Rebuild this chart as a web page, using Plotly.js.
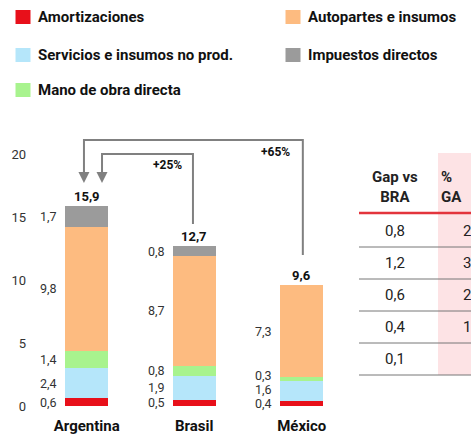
<!DOCTYPE html>
<html><head><meta charset="utf-8">
<script src="https://cdn.plot.ly/plotly-3.0.1.min.js"></script>
<style>html,body{margin:0;padding:0;background:#fff}#chart{width:471px;height:439px}</style>
</head><body><div id="chart"></div>
<script>
// ---- data ----
const countries = ['Argentina', 'Brasil', 'México'];
const seriesNames = ['Amortizaciones', 'Servicios e insumos no prod.', 'Mano de obra directa', 'Autopartes e insumos', 'Impuestos directos'];
const amortizaciones = [0.6, 0.5, 0.4];
const servicios = [2.4, 1.9, 1.6];
const manoDeObra = [1.4, 0.8, 0.3];
const autopartes = [9.8, 8.7, 7.3];
const impuestos = [1.7, 0.8, 0];
const totals = [15.9, 12.7, 9.6];
const comparisons = ['+25%', '+65%'];
const yTicks = [0, 5, 10, 15, 20];
const gapHeader = 'Gap vs<br>BRA';
const pctHeader = '%<br>GA';
const gapVsBra = [0.8, 1.2, 0.6, 0.4, 0.1];
const pctGapVisible = ['2', '3', '2', '1', ''];

// ---- styles ----
const colors = ['#e8101a', '#b5e6fa', '#a8f38e', '#fdbb80', '#9b9b9b'];
const FONT = 'Roboto, "Open Sans", sans-serif';
const series = [amortizaciones, servicios, manoDeObra, autopartes, impuestos];
const xIdx = countries.map((c, i) => i);
const fmt = v => v.toFixed(1).replace('.', ',');

// plot area geometry (pixels)
const L = 33, W = 438, B = 406, H = 406;
const pxX = p => (p - L) / W;
const pxY = p => (B - p) / H;
const unit = 12.6; // px per y unit
const dY = p => (B - p) / unit;

const traces = series.map((vals, s) => ({
  type: 'bar', x: xIdx, y: vals, name: seriesNames[s],
  marker: { color: colors[s], line: { width: 0 } },
  width: 0.4, hoverinfo: 'skip', showlegend: false
}));

const annotations = [];
const shapes = [];

// segment labels (centred on segment, nudged apart when segments are thin)
xIdx.forEach(i => {
  let cum = 0, prevPx = null;
  series.forEach(vals => {
    const v = vals[i];
    if (v > 0) {
      let p = B - (cum + v / 2) * unit;
      if (prevPx !== null) p = Math.min(p, prevPx - 14);
      prevPx = p;
      annotations.push({
        x: i - 0.2, y: dY(p), xref: 'x', yref: 'y', text: fmt(v), showarrow: false,
        xanchor: 'right', yanchor: 'middle', xshift: -6,
        font: { family: FONT, size: 12.5, color: '#333' }
      });
    }
    cum += v;
  });
  annotations.push({
    x: i, y: totals[i], xref: 'x', yref: 'y', text: fmt(totals[i]), showarrow: false,
    xanchor: 'center', yanchor: 'bottom', yshift: 0,
    font: { family: FONT, size: 13, color: '#111', weight: 'bold' }
  });
});

// comparison arrows
const arrowColor = '#808080';
shapes.push({ type: 'path', xref: 'x', yref: 'y', path: `M 2.01,${dY(255)} L 2.01,${dY(140)} L -0.026,${dY(140)} L -0.026,${dY(172)}`, line: { color: arrowColor, width: 2 } });
shapes.push({ type: 'path', xref: 'x', yref: 'y', path: `M 0.988,${dY(224)} L 0.988,${dY(154)} L 0.142,${dY(154)} L 0.142,${dY(172)}`, line: { color: arrowColor, width: 2 } });
[-0.026, 0.142].forEach(x => annotations.push({
  x: x, y: dY(183), xref: 'x', yref: 'y', text: '', showarrow: true, ax: 0, ay: -14,
  arrowhead: 2, arrowsize: 1.1, arrowwidth: 2, arrowcolor: arrowColor
}));
annotations.push({ x: 0.747, y: dY(165), xref: 'x', yref: 'y', text: comparisons[0], showarrow: false,
  font: { family: FONT, size: 12, color: '#111', weight: 'bold' } });
annotations.push({ x: 1.76, y: dY(152), xref: 'x', yref: 'y', text: comparisons[1], showarrow: false,
  font: { family: FONT, size: 12, color: '#111', weight: 'bold' } });

// legend (manual, two columns)
const legendSlots = [[0, 23, 17], [3, 293, 17], [1, 23, 55], [4, 293, 55], [2, 23, 90]];
legendSlots.forEach(([s, cx, cy]) => {
  shapes.push({ type: 'rect', xref: 'paper', yref: 'paper', x0: pxX(cx - 7.5), x1: pxX(cx + 7.5), y0: pxY(cy + 7), y1: pxY(cy - 7),
    fillcolor: colors[s], line: { width: 0 } });
  annotations.push({ x: pxX(cx + 13), y: pxY(cy), xref: 'paper', yref: 'paper', text: seriesNames[s], showarrow: false,
    xanchor: 'left', yanchor: 'middle', font: { family: FONT, size: 15, color: '#111', weight: 'bold' } });
});

// table
shapes.push({ type: 'rect', xref: 'paper', yref: 'paper', x0: pxX(438), x1: pxX(475), y0: pxY(375), y1: pxY(153),
  fillcolor: '#fde3e5', line: { width: 0 }, layer: 'below' });
shapes.push({ type: 'line', xref: 'paper', yref: 'paper', x0: pxX(359), x1: pxX(475), y0: pxY(213), y1: pxY(213),
  line: { color: '#e3343c', width: 2.5 } });
gapVsBra.forEach((v, k) => {
  const yl = 247 + 32 * k;
  shapes.push({ type: 'line', xref: 'paper', yref: 'paper', x0: pxX(359), x1: pxX(475), y0: pxY(yl), y1: pxY(yl),
    line: { color: '#777', width: 1 } });
  annotations.push({ x: pxX(395), y: pxY(yl - 16), xref: 'paper', yref: 'paper', text: fmt(v), showarrow: false,
    xanchor: 'center', yanchor: 'middle', font: { family: FONT, size: 15, color: '#222' } });
  if (pctGapVisible[k]) annotations.push({ x: pxX(461), y: pxY(yl - 16), xref: 'paper', yref: 'paper', text: pctGapVisible[k], showarrow: false,
    xanchor: 'left', yanchor: 'middle', font: { family: FONT, size: 15, color: '#222' } });
});
annotations.push({ x: pxX(395), y: pxY(187), xref: 'paper', yref: 'paper', text: gapHeader, showarrow: false,
  xanchor: 'center', yanchor: 'middle', font: { family: FONT, size: 15, color: '#222', weight: 'bold' } });
annotations.push({ x: pxX(439), y: pxY(187), xref: 'paper', yref: 'paper', text: pctHeader, showarrow: false, align: 'left',
  xanchor: 'left', yanchor: 'middle', font: { family: FONT, size: 15, color: '#222', weight: 'bold' } });

const layout = {
  width: 471, height: 439,
  margin: { l: L, r: 0, t: 0, b: 439 - B, pad: 0 },
  paper_bgcolor: '#fff', plot_bgcolor: 'rgba(0,0,0,0)',
  barmode: 'stack', showlegend: false,
  xaxis: { range: [-0.5, -0.5 + W / 107.5], tickvals: xIdx, ticktext: countries, showgrid: false, zeroline: false, showline: false,
    ticks: '', ticklabelstandoff: 9, tickfont: { family: FONT, size: 15, color: '#111', weight: 'bold' }, fixedrange: true },
  yaxis: { range: [0, H / unit], tickvals: yTicks, ticktext: yTicks.map(String), showgrid: false, zeroline: false, showline: false,
    ticks: '', ticklabelstandoff: 6, tickfont: { family: FONT, size: 13, color: '#333' }, fixedrange: true },
  shapes: shapes, annotations: annotations
};
Plotly.newPlot('chart', traces, layout, { displayModeBar: false, staticPlot: true });
</script></body></html>
